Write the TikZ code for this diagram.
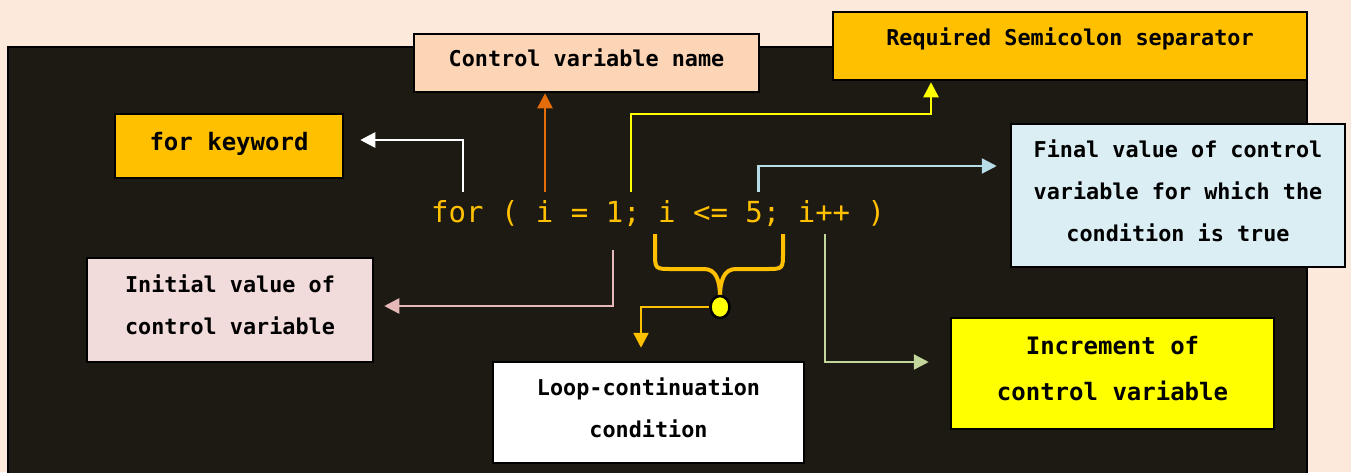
\documentclass[tikz,border=0pt]{standalone}
\usepackage{fontspec}
\setmonofont{DejaVu Sans Mono}
\usetikzlibrary{arrows.meta,shapes.geometric}
\definecolor{peach}{HTML}{FCE9DC}
\definecolor{darkbg}{HTML}{1D1A13}
\definecolor{amber}{HTML}{FFC000}
\definecolor{ctrlfill}{HTML}{FBD5B5}
\definecolor{finalfill}{HTML}{DAEEF3}
\definecolor{initfill}{HTML}{F2DCDB}
\definecolor{brightyellow}{HTML}{FFFF00}
\definecolor{burnt}{HTML}{E46C0A}
\definecolor{skyline}{HTML}{B7DDE8}
\definecolor{pinkline}{HTML}{E6B9B8}
\definecolor{greenline}{HTML}{C3D69B}
\newcommand{\labfont}{\ttfamily\bfseries\fontsize{21.8}{42}\selectfont}
\newcommand{\biglabfont}{\ttfamily\bfseries\fontsize{24}{46}\selectfont}
\tikzset{
    labelbox/.style={draw=black, line width=2.5pt, inner sep=0pt, align=center, text depth=10pt, font=\labfont},
    codetext/.style={text=amber, inner sep=0pt, font=\ttfamily\fontsize{29}{34}\selectfont},
    wire/.style={line width=2.5pt, -{Triangle[length=15pt,width=15pt]}}
}
\begin{document}
\begin{tikzpicture}[x=1pt,y=-1pt]
        \useasboundingbox (0,0) rectangle (1351,472);
        \fill [peach] (0,0) rectangle (1351,472);
        \fill [darkbg] (8,47) rectangle (1307,480);
        \draw [black,line width=2pt] (8,480) -- (8,47) -- (1307,47) -- (1307,480);

        \node [labelbox, fill=amber, minimum width=474pt, minimum height=68pt, text depth=18pt] (semi) at (1070,46) {Required Semicolon separator};
        \node [labelbox, fill=ctrlfill, minimum width=345pt, minimum height=58pt] (ctrl) at (586.5,63) {Control variable name};
        \node [labelbox, fill=amber, minimum width=228pt, minimum height=64pt, font=\biglabfont] (kw) at (229,146) {for keyword};
        \node [labelbox, fill=finalfill, minimum width=334pt, minimum height=143pt] (final) at (1178,195.5) {Final value of control\\variable for which the\\condition is true};
        \node [labelbox, fill=initfill, minimum width=286pt, minimum height=104pt] (init) at (230,310) {Initial value of\\control variable};
        \node [labelbox, fill=white, minimum width=311pt, minimum height=101pt] (loop) at (648.5,412.5) {Loop-continuation\\condition};
        \node [labelbox, fill=brightyellow, minimum width=323pt, minimum height=111pt, font=\biglabfont] (inc) at (1112.5,373.5) {Increment of\\control variable};

        \node [codetext, anchor=base west] (code) at (431,222) {for ( i = 1; i <= 5; i++ )};

        \coordinate (pFor) at (463,192);
        \coordinate (pVar) at (545,192);
        \coordinate (pSemi) at (631,192);
        \coordinate (semiBend) at (931,114);
        \coordinate (pFinal) at (758.5,192);
        \coordinate (pInit) at (613,250);
        \coordinate (pInc) at (825,234);

        \draw [wire, white] (pFor) |- ([xshift=16pt,yshift=6pt]kw.east);
        \draw [wire, burnt] (pVar) -- (pVar |- ctrl.south);
        \draw [wire, brightyellow] (pSemi) |- (semiBend) -- ([yshift=-1pt]semiBend |- semi.south);
        \draw [wire, skyline] (pFinal) |- ([xshift=-13pt,yshift=29.5pt]final.west);
        \draw [wire, pinkline] (pInit) |- ([xshift=10pt,yshift=4pt]init.east);
        \draw [wire, greenline] (pInc) |- ([xshift=-21pt,yshift=11.5pt]inc.west);

        \draw [amber, line width=4pt] (655,234) -- (655,252) .. controls (655,269) and (655,269) .. (672,269) -- (704,269)
            .. controls (716,269) and (720,280) .. (720,298)
            .. controls (720,280) and (724,269) .. (736,269) -- (766,269)
            .. controls (783,269) and (783,269) .. (783,252) -- (783,234);
        \node [ellipse, draw=black, line width=2.5pt, fill=brightyellow, minimum width=19pt, minimum height=22pt, inner sep=0pt] (dot) at (720,307) {};
        \draw [wire, amber] (dot.west) -| ([xshift=-7.5pt,yshift=13pt]loop.north);
    \end{tikzpicture}
\end{document}
